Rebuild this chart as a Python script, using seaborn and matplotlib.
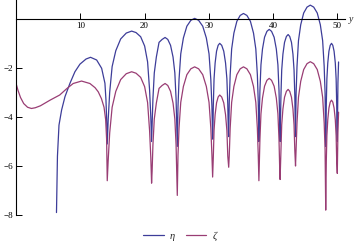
import numpy as np
import pandas as pd
import matplotlib
matplotlib.use("Agg")
import matplotlib.pyplot as plt
from matplotlib.ticker import MultipleLocator
from matplotlib.lines import Line2D
import seaborn as sns

# ---- data ----
eta_x = [6.3, 6.45, 6.69, 7.1, 7.62, 8.4, 9.17, 9.95, 10.9, 11.6, 12.55, 13.33, 13.84, 14.0, 14.12, 14.2,
         14.35, 14.58, 14.96, 15.53, 16.29, 17.16, 18.0,
         18.68, 19.4, 20.02, 20.48, 20.79, 20.98, 21.1,
         21.18, 21.31, 21.52, 21.84, 22.26, 22.74, 23.2,
         23.62, 24.05, 24.44, 24.72, 24.91, 25.02, 25.1,
         25.21, 25.37, 25.64, 26.05, 26.59, 27.21, 27.8,
         28.42, 29.06, 29.62, 30.04, 30.32, 30.49, 30.6,
         30.64, 30.71, 30.82, 30.99, 31.21, 31.46, 31.7,
         32.01, 32.33, 32.61, 32.82, 32.96, 33.04, 33.1,
         33.19, 33.33, 33.56, 33.91, 34.37, 34.89, 35.4,
         35.93, 36.48, 36.96, 37.32, 37.56, 37.7, 37.8,
         37.86, 37.96, 38.12, 38.36, 38.68, 39.05, 39.4,
         39.77, 40.17, 40.51, 40.76, 40.93, 41.03, 41.1,
         41.15, 41.23, 41.35, 41.54, 41.79, 42.08, 42.35,
         42.6, 42.87, 43.1, 43.27, 43.39, 43.45, 43.5,
         43.59, 43.73, 43.96, 44.31, 44.77, 45.29, 45.8,
         46.33, 46.88, 47.36, 47.72, 47.96, 48.1, 48.2,
         48.24, 48.29, 48.38, 48.52, 48.7, 48.9, 49.1,
         49.3, 49.5, 49.69, 49.82, 49.91, 49.96, 50.0,
         50.1, 50.2]
eta_y = [-7.9, -5.6, -4.33, -3.71, -3.17, -2.62, -2.15, -1.84, -1.63, -1.56, -1.67, -2.01, -2.62, -3.3, -4.2, -5.1,
         -4.09, -2.99, -1.94, -1.29, -0.81, -0.57, -0.49,
         -0.55, -0.72, -1.1, -1.75, -2.9, -4.0, -5.0,
         -4.35, -3.25, -2.2, -1.55, -0.95, -0.83, -0.75,
         -0.83, -1.07, -1.55, -2.2, -3.25, -4.35, -5.2,
         -3.57, -2.47, -1.42, -0.77, -0.29, -0.05, 0.03,
         -0.05, -0.29, -0.77, -1.42, -2.47, -3.57, -4.9,
         -4.59, -3.49, -2.44, -1.79, -1.31, -1.07, -0.99,
         -1.07, -1.31, -1.79, -2.44, -3.49, -4.59, -4.8,
         -3.37, -2.27, -1.22, -0.57, -0.09, 0.15, 0.23,
         0.15, -0.09, -0.57, -1.22, -2.27, -3.37, -5.0,
         -4.02, -2.92, -1.87, -1.22, -0.74, -0.5, -0.42,
         -0.5, -0.74, -1.22, -1.87, -2.92, -4.02, -5.0,
         -4.23, -3.13, -2.08, -1.43, -0.95, -0.71, -0.63,
         -0.71, -0.95, -1.43, -2.08, -3.13, -4.23, -4.8,
         -3.03, -1.93, -0.88, -0.23, 0.25, 0.49, 0.57,
         0.49, 0.25, -0.23, -0.88, -1.93, -3.03, -5.2,
         -4.59, -3.49, -2.44, -1.79, -1.31, -1.07, -0.99,
         -1.07, -1.31, -1.79, -2.44, -3.49, -4.59, -5.0,
         -2.6, -1.75]

zeta_x = [0.0, 0.3, 0.7, 1.2, 1.8, 2.4, 3.0, 3.8, 5.3, 6.8, 7.9, 8.9, 10.2, 11.5, 12.3, 12.8,
          13.3, 13.7, 13.95, 14.1, 14.2,
          14.35, 14.58, 14.96, 15.53, 16.29, 17.16, 18.0,
          18.68, 19.4, 20.02, 20.48, 20.79, 20.98, 21.1,
          21.18, 21.31, 21.52, 21.84, 22.26, 22.74, 23.2,
          23.62, 24.05, 24.44, 24.72, 24.91, 25.02, 25.1,
          25.21, 25.37, 25.64, 26.05, 26.59, 27.21, 27.8,
          28.42, 29.06, 29.62, 30.04, 30.32, 30.49, 30.6,
          30.71, 30.82, 30.99, 31.21, 31.46, 31.7,
          32.01, 32.33, 32.61, 32.82, 32.96, 33.1,
          33.19, 33.33, 33.56, 33.91, 34.37, 34.89, 35.4,
          35.93, 36.48, 36.96, 37.32, 37.56, 37.7, 37.8,
          37.86, 37.96, 38.12, 38.36, 38.68, 39.05, 39.4,
          39.77, 40.17, 40.51, 40.76, 40.93, 41.03, 41.1,
          41.23, 41.35, 41.54, 41.79, 42.08, 42.35,
          42.6, 42.87, 43.1, 43.27, 43.39, 43.5,
          43.59, 43.73, 43.96, 44.31, 44.77, 45.29, 45.8,
          46.33, 46.88, 47.36, 47.72, 47.96, 48.1, 48.2,
          48.29, 48.38, 48.52, 48.7, 48.9, 49.1,
          49.3, 49.5, 49.69, 49.82, 49.91, 50.0,
          50.1, 50.2]
zeta_y = [-2.62, -2.9, -3.2, -3.45, -3.6, -3.65, -3.62, -3.54, -3.31, -3.1, -2.84, -2.63, -2.53, -2.63, -2.8, -2.97,
          -3.25, -3.6, -4.1, -4.9, -6.6,
          -5.75, -4.65, -3.6, -2.95, -2.47, -2.23, -2.15,
          -2.21, -2.38, -2.76, -3.41, -4.56, -5.66, -6.7,
          -6.23, -5.13, -4.08, -3.43, -2.83, -2.71, -2.63,
          -2.71, -2.95, -3.43, -4.08, -5.13, -6.23, -7.2,
          -5.55, -4.45, -3.4, -2.75, -2.27, -2.03, -1.95,
          -2.03, -2.27, -2.75, -3.4, -4.45, -5.55, -6.45,
          -5.6, -4.55, -3.9, -3.42, -3.18, -3.1,
          -3.18, -3.42, -3.9, -4.55, -5.6, -6.05,
          -5.55, -4.45, -3.4, -2.75, -2.27, -2.03, -1.95,
          -2.03, -2.27, -2.75, -3.4, -4.45, -5.55, -6.6,
          -6.02, -4.92, -3.87, -3.22, -2.74, -2.5, -2.42,
          -2.5, -2.74, -3.22, -3.87, -4.92, -6.02, -6.55,
          -5.37, -4.32, -3.67, -3.19, -2.95, -2.87,
          -2.95, -3.19, -3.67, -4.32, -5.37, -6.0,
          -5.34, -4.24, -3.19, -2.54, -2.06, -1.82, -1.74,
          -1.82, -2.06, -2.54, -3.19, -4.24, -5.34, -7.8,
          -5.81, -4.76, -4.11, -3.63, -3.39, -3.31,
          -3.39, -3.63, -4.11, -4.76, -5.81, -6.3,
          -4.6, -3.8]

series_names = ["η", "ζ"]
colors = {"η": "#3d3d99", "ζ": "#993d74"}
x_ticks = [10, 20, 30, 40, 50]
y_ticks = [-2, -4, -6, -8]

df = pd.concat([
    pd.DataFrame({"x": eta_x, "v": eta_y, "s": "η"}),
    pd.DataFrame({"x": zeta_x, "v": zeta_y, "s": "ζ"}),
])

sns.set_style("white")
plt.rcParams['font.family'] = ['Liberation Serif', 'DejaVu Serif']

fig = plt.figure(figsize=(3.6, 2.5), dpi=100)
ax = fig.add_axes([16 / 360, 35 / 250, 329 / 360, 215 / 250])

sns.lineplot(data=df, x="x", y="v", hue="s", palette=colors, hue_order=series_names,
             estimator=None, sort=False, units="s", linewidth=0.9, legend=False, ax=ax)

ax.set_xlim(0, 51.2)
ax.set_ylim(-8.0, 0.78)
ax.set_xlabel("")
ax.set_ylabel("")

# axes crossing at the origin
for sp in ["top", "right"]:
    ax.spines[sp].set_visible(False)
ax.spines["bottom"].set_position(("data", 0))
ax.spines["left"].set_position(("data", 0))
for sp in ["bottom", "left"]:
    ax.spines[sp].set_linewidth(0.8)
    ax.spines[sp].set_color("black")

ax.set_xticks(x_ticks)
ax.set_yticks(y_ticks)
ax.set_yticklabels(["\u2212" + str(abs(t)) for t in y_ticks])
ax.xaxis.set_minor_locator(MultipleLocator(2))
ax.yaxis.set_minor_locator(MultipleLocator(0.5))
ax.tick_params(axis="both", which="major", direction="in", length=4, width=0.7,
               labelsize=6.5, pad=2, colors="black")
ax.tick_params(axis="both", which="minor", direction="in", length=2, width=0.5)
ax.tick_params(axis="x", bottom=True)
ax.tick_params(axis="y", left=True)

ax.text(51.8, 0, "y", style="italic", fontsize=7, va="center", ha="left", clip_on=False)

handles = [Line2D([], [], color=colors[n], lw=0.9) for n in series_names]
fig.legend(handles, series_names, loc="lower center", bbox_to_anchor=(0.5, 0.0), ncol=2,
           frameon=False, handlelength=2.0, columnspacing=1.0, handletextpad=0.6,
           prop={"style": "italic", "size": 7.5})

fig.savefig("out.png", dpi=100)
